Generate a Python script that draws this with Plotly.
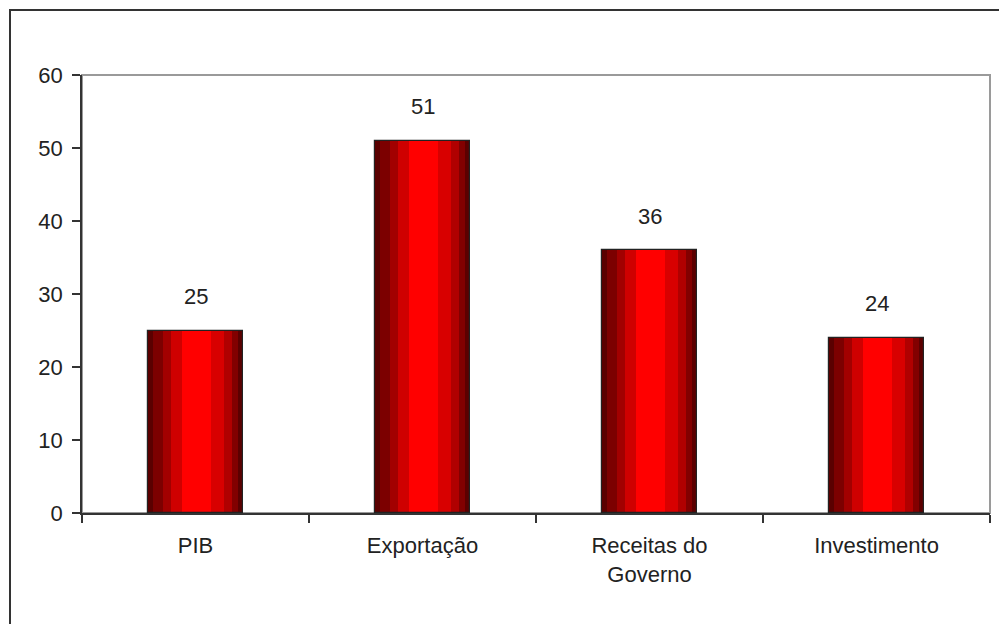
import plotly.graph_objects as go

categories = ["PIB", "Exportação", "Receitas do<br>Governo", "Investimento"]
values = [25, 51, 36, 24]
y_ticks = [0, 10, 20, 30, 40, 50, 60]

# stripe styling for the shaded cylinder look (relative widths, colours)
stripe_parts = [17, 30, 25, 35, 90, 40, 25, 20, 15]
stripe_colors = ["#5a0000", "#7c0000", "#a20000", "#cf0000", "#ff0000",
                 "#d80000", "#b00000", "#820000", "#5c0000"]
BAR_W = 0.42

fig = go.Figure()
total = sum(stripe_parts)
pos = -BAR_W / 2
for part, col in zip(stripe_parts, stripe_colors):
    w = BAR_W * part / total
    fig.add_trace(go.Bar(x=categories, y=values, width=w, offset=pos,
                         marker=dict(color=col, line=dict(width=0)),
                         hoverinfo="skip", showlegend=False))
    pos += w
# outline
fig.add_trace(go.Bar(x=categories, y=values, width=BAR_W, offset=-BAR_W / 2,
                     marker=dict(color="rgba(0,0,0,0)", line=dict(color="#222", width=1.2)),
                     hoverinfo="skip", showlegend=False))

annotations = [dict(x=c, y=v, text=str(v), showarrow=False, yshift=34,
                    xref="x", yref="y",
                    font=dict(family="Liberation Sans, Arial", size=22, color="#222"))
               for c, v in zip(categories, values)]

fig.update_layout(
    width=999, height=624,
    margin=dict(l=82, r=9, t=75, b=111),
    paper_bgcolor="white", plot_bgcolor="white",
    barmode="overlay", bargap=0,
    font=dict(family="Liberation Sans, Arial", color="#222"),
    annotations=annotations,
    shapes=[
        # plot area border (gray)
        dict(type="rect", xref="paper", yref="paper", x0=0, y0=0, x1=1, y1=1,
             line=dict(color="#9a9a9a", width=2), layer="below"),
        # outer frame (clipped by the page)
        dict(type="rect", xref="paper", yref="paper", x0=-72/908, y0=-0.5, x1=1.2, y1=(513-10)/438,
             line=dict(color="#333", width=2), layer="below"),
    ],
    xaxis=dict(type="category", range=[-0.5, 3.5], showgrid=False,
               showline=True, linecolor="#333", linewidth=1.5,
               ticks="outside", tickson="boundaries", ticklen=8, tickcolor="#333", tickwidth=1.5,
               ticklabelstandoff=12,
               tickfont=dict(size=22, color="#222")),
    yaxis=dict(range=[0, 60], tickvals=y_ticks, showgrid=False, zeroline=False,
               showline=True, linecolor="#333", linewidth=1.5,
               ticks="outside", ticklen=8, tickcolor="#333", tickwidth=1.5,
               ticklabelstandoff=5,
               tickfont=dict(size=22, color="#222")),
)

fig.write_html("out.html")
